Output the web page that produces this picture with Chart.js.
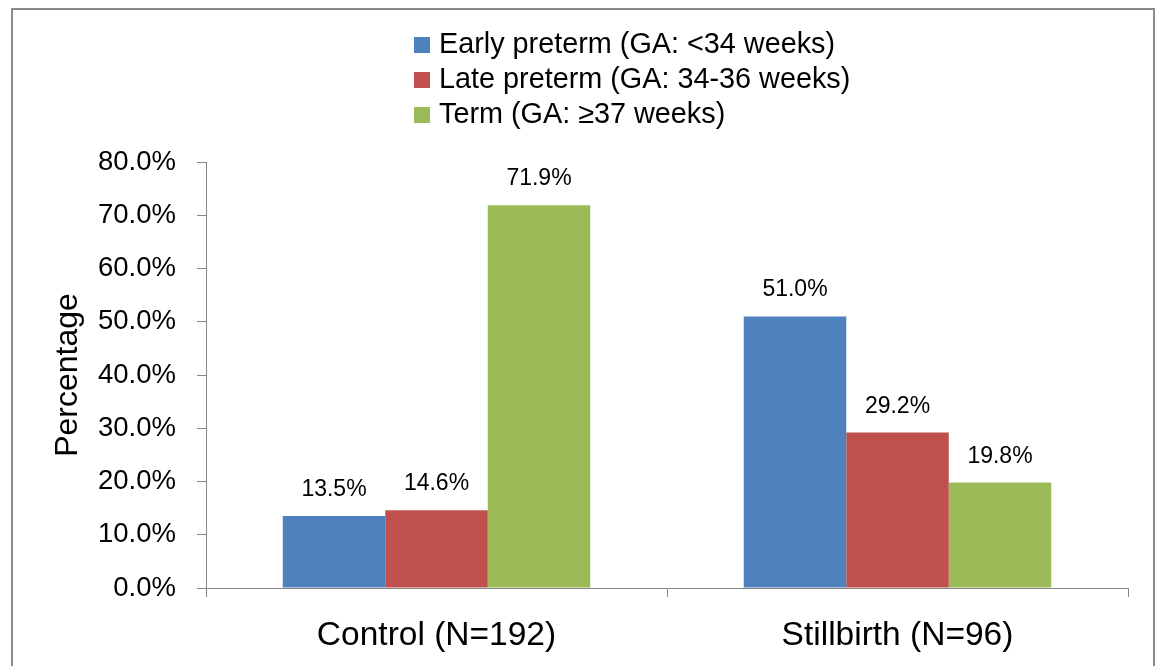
<!DOCTYPE html>
<html><head><meta charset="utf-8">
<script src="https://cdn.jsdelivr.net/npm/chart.js@4/dist/chart.umd.min.js"></script>
<style>html,body{margin:0;padding:0;background:#fff;} #wrap{width:1158px;height:666px;position:relative;overflow:hidden;}</style>
</head><body><div id="wrap"><canvas id="c" width="1158" height="666"></canvas></div>
<script>
const categories = ['Control (N=192)', 'Stillbirth (N=96)'];
const seriesNames = ['Early preterm (GA: <34 weeks)', 'Late preterm (GA: 34-36 weeks)', 'Term (GA: \u226537 weeks)'];
const earlyPreterm = [13.5, 51.0];
const latePreterm = [14.6, 29.2];
const term = [71.9, 19.8];
const seriesColors = ['#4F81BD', '#C0504D', '#9BBB59'];
const yAxisTitle = 'Percentage';
const yMin = 0, yMax = 80, yStep = 10;

const FONT = "'Liberation Sans', Arial, sans-serif";
const AXIS_GRAY = '#868686';

const frame = {
  id: 'frame',
  beforeDraw(chart) {
    const ctx = chart.ctx;
    ctx.save();
    ctx.fillStyle = '#fff';
    ctx.fillRect(0, 0, chart.width, chart.height);
    ctx.strokeStyle = '#8a8a8a';
    ctx.lineWidth = 2;
    ctx.strokeRect(12, 9, 1142, 700);
    ctx.restore();
  }
};

const stackedLegend = {
  id: 'stackedLegend',
  afterDraw(chart, args, opts) {
    const ctx = chart.ctx;
    ctx.save();
    ctx.font = opts.fontSize + 'px ' + FONT;
    ctx.textBaseline = 'middle';
    ctx.textAlign = 'left';
    chart.data.datasets.forEach((ds, i) => {
      const cy = opts.y0 + i * opts.step;
      ctx.fillStyle = ds.backgroundColor;
      ctx.fillRect(opts.x, cy - opts.box / 2, opts.box, opts.box);
      ctx.fillStyle = '#000';
      ctx.fillText(ds.label, opts.textX, cy);
    });
    ctx.restore();
  }
};

const valueLabels = {
  id: 'valueLabels',
  afterDatasetsDraw(chart, args, opts) {
    const ctx = chart.ctx;
    ctx.save();
    ctx.font = opts.fontSize + 'px ' + FONT;
    ctx.fillStyle = '#000';
    ctx.textAlign = 'center';
    ctx.textBaseline = 'alphabetic';
    chart.data.datasets.forEach((ds, i) => {
      chart.getDatasetMeta(i).data.forEach((bar, j) => {
        ctx.fillText(ds.data[j].toFixed(1) + '%', bar.x, bar.y - opts.gap);
      });
    });
    ctx.restore();
  }
};

const seriesData = [earlyPreterm, latePreterm, term];

new Chart(document.getElementById('c'), {
  type: 'bar',
  data: {
    labels: categories,
    datasets: seriesNames.map((name, i) => ({
      label: name,
      data: seriesData[i],
      backgroundColor: seriesColors[i],
      borderWidth: 0,
      categoryPercentage: 0.667,
      barPercentage: 1.0
    }))
  },
  options: {
    responsive: false,
    animation: false,
    devicePixelRatio: 1,
    layout: { padding: { top: 162, left: 0, right: 30, bottom: 0 } },
    plugins: {
      legend: { display: false },
      tooltip: { enabled: false },
      stackedLegend: { x: 414, textX: 439, y0: 45, step: 35, box: 16, fontSize: 28.8 },
      valueLabels: { fontSize: 23, gap: 20 }
    },
    scales: {
      x: {
        type: 'category',
        offset: true,
        grid: { offset: true, drawOnChartArea: false, drawTicks: true, tickLength: 9, color: AXIS_GRAY, lineWidth: 1 },
        border: { color: AXIS_GRAY, width: 1 },
        ticks: { font: { family: FONT, size: 33.5 }, color: '#000', padding: 19, maxRotation: 0, autoSkip: false },
        afterFit: s => { s.height = 78; }
      },
      y: {
        min: yMin,
        max: yMax,
        ticks: {
          stepSize: yStep,
          font: { family: FONT, size: 27.5 },
          color: '#000',
          padding: 21,
          callback: v => Number(v).toFixed(1) + '%'
        },
        grid: { drawOnChartArea: false, drawTicks: true, tickLength: 9, color: AXIS_GRAY, lineWidth: 1 },
        border: { color: AXIS_GRAY, width: 1 },
        title: { display: true, text: yAxisTitle, font: { family: FONT, size: 32 }, color: '#000', padding: { top: 49, bottom: 0 } },
        afterFit: s => { s.width = 206; }
      }
    }
  },
  plugins: [frame, stackedLegend, valueLabels]
});
</script>
</body></html>
